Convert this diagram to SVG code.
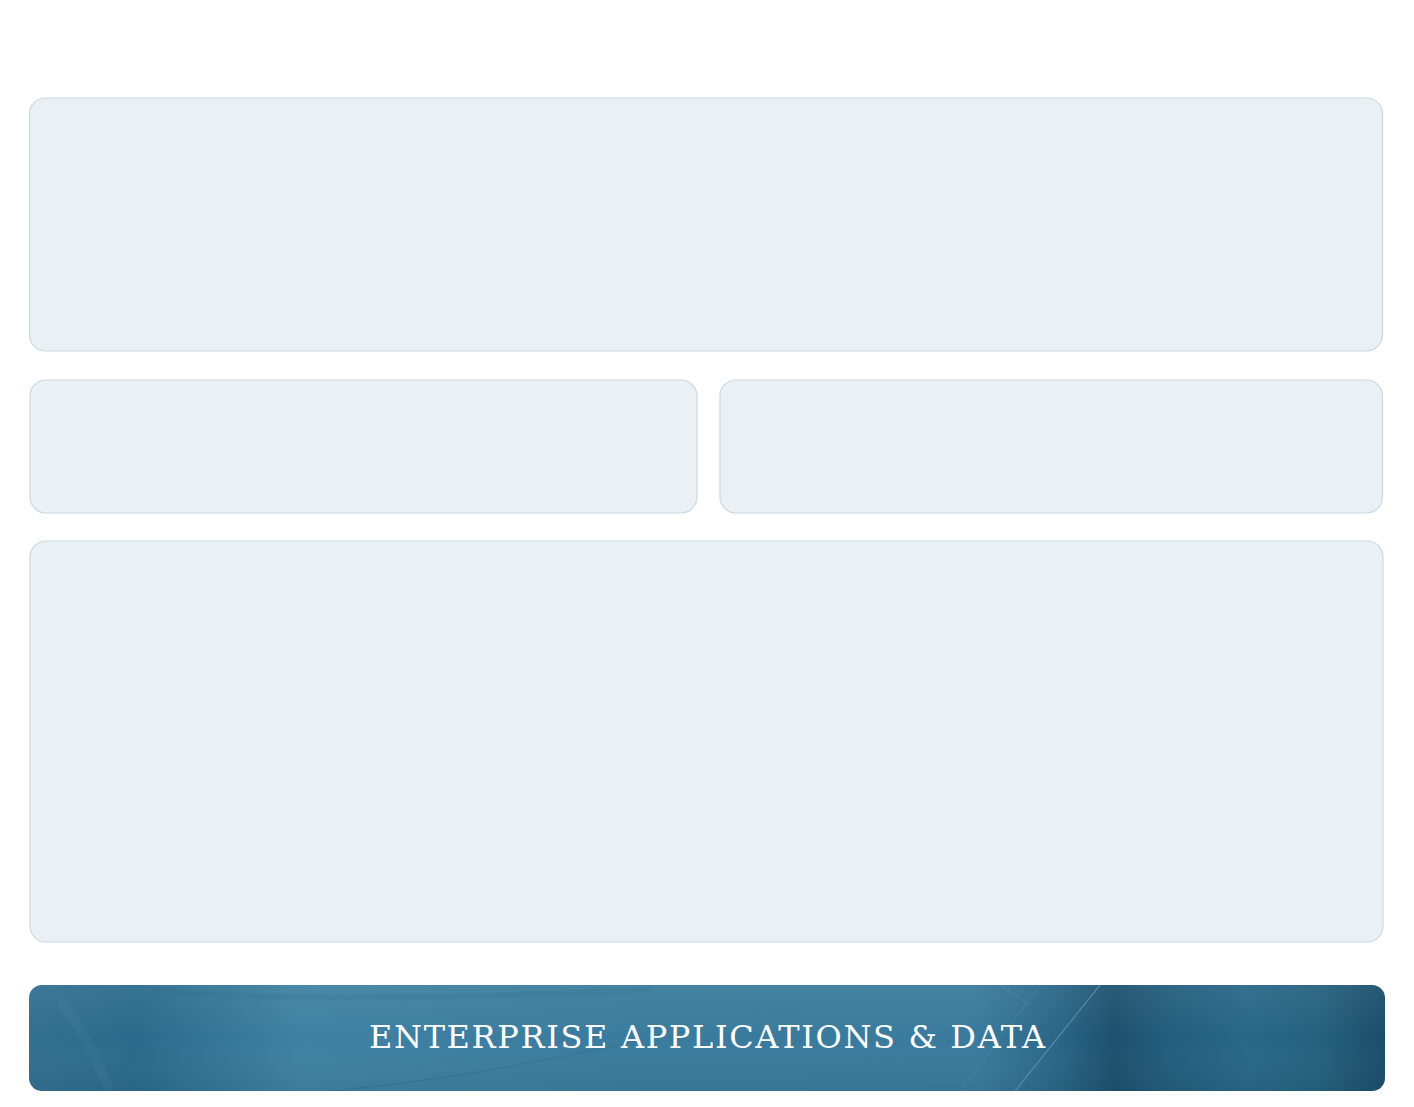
<svg xmlns="http://www.w3.org/2000/svg" width="1414" height="1107" viewBox="0 0 1414 1107">
<style>
.panel{fill:#eaf0f3;stroke:#c8d9e1;stroke-width:1.2}
.title{font-family:"DejaVu Serif","Liberation Serif",serif;font-size:32px;fill:#ffffff}
</style>
<defs>
<linearGradient id="bg" x1="0" y1="0" x2="1" y2="0">
<stop offset="0" stop-color="#336f90"/>
<stop offset="0.08" stop-color="#2b6a8c"/>
<stop offset="0.2" stop-color="#3f81a3"/>
<stop offset="0.45" stop-color="#3a7b9d"/>
<stop offset="0.7" stop-color="#3a7a9c"/>
<stop offset="0.76" stop-color="#2a6586"/>
<stop offset="0.8" stop-color="#1c506e"/>
<stop offset="0.84" stop-color="#235d7d"/>
<stop offset="0.9" stop-color="#296788"/>
<stop offset="0.95" stop-color="#25617f"/>
<stop offset="1" stop-color="#1a4d6a"/>
</linearGradient>
<linearGradient id="sheen" x1="0" y1="0" x2="0" y2="1">
<stop offset="0" stop-color="#ffffff" stop-opacity="0.06"/>
<stop offset="0.5" stop-color="#ffffff" stop-opacity="0"/>
<stop offset="1" stop-color="#000000" stop-opacity="0.05"/>
</linearGradient>
<clipPath id="bclip"><rect x="29" y="985" width="1356" height="106" rx="13"/></clipPath>
</defs>
<rect width="1414" height="1107" fill="#ffffff"/>
<g id="panel-top"><rect class="panel" x="29.5" y="98" width="1353" height="253" rx="16"/></g>
<g id="panel-mid-left"><rect class="panel" x="30" y="380" width="667" height="133" rx="16"/></g>
<g id="panel-mid-right"><rect class="panel" x="720" y="380" width="662.5" height="133" rx="16"/></g>
<g id="panel-bottom"><rect class="panel" x="30" y="541" width="1353" height="401" rx="16"/></g>
<g id="connectors"></g>
<g id="banner">
<rect x="29" y="985" width="1356" height="106" rx="13" fill="url(#bg)"/>
<g clip-path="url(#bclip)" fill="none" stroke-width="1">
<path d="M60 1000 C 90 1040, 100 1070, 110 1091" stroke="#5a96b5" stroke-opacity="0.12" stroke-width="10"/>
<path d="M150 990 C 250 1000, 400 1000, 650 990" stroke="#1f5a7a" stroke-opacity="0.12" stroke-width="6"/>
<path d="M330 1091 C 450 1080, 550 1060, 640 1040" stroke="#205a7a" stroke-opacity="0.3"/>
<path d="M1100 985 L 1015 1091" stroke="#6aa3c0" stroke-opacity="0.5" stroke-width="1.5"/>
<path d="M1040 985 L 960 1091" stroke="#5f98b5" stroke-opacity="0.3"/>
<path d="M1000 985 L 1030 1005" stroke="#5f98b5" stroke-opacity="0.3"/>
</g>
<rect x="29" y="985" width="1356" height="106" rx="13" fill="url(#sheen)"/>
<text class="title" x="707" y="1048" text-anchor="middle" textLength="676" lengthAdjust="spacing">ENTERPRISE APPLICATIONS &amp; DATA</text>
</g>
</svg>
